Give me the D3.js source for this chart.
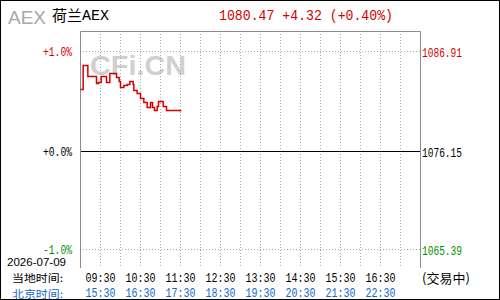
<!DOCTYPE html>
<html>
<head>
<meta charset="utf-8">
<script src="https://cdn.jsdelivr.net/npm/d3@7"></script>
<style>
  body { margin: 0; background: #fff; }
  svg { display: block; }
  .mono { font-family: "Liberation Mono", "DejaVu Sans Mono", monospace; }
  .cjk { font-family: "Noto Sans CJK SC", sans-serif; }
</style>
</head>
<body>
<svg id="chart" width="500" height="300"></svg>
<script>
// intraday steps: local time, change vs previous close in %
const times = ["09:00","09:04","09:11","09:24","09:27","09:31","09:39","09:44","09:54","09:58",
               "10:00","10:05","10:10","10:14","10:19","10:20","10:25","10:30","10:35","10:40",
               "10:45","10:48","10:51","10:55","10:57","11:04","11:09","11:30"];
const pctValues = [0.62,0.86,0.75,0.68,0.69,0.75,0.69,0.78,0.74,0.70,
                   0.64,0.66,0.67,0.70,0.67,0.61,0.58,0.53,0.49,0.44,
                   0.49,0.44,0.41,0.45,0.50,0.45,0.41,0.40];

const prevClose = 1076.15;
const lastPrice = "1080.47";
const changeText = "+4.32 (+0.40%)";
const pctTicks = [1, 0, -1];
const localTicks = ["09:30","10:30","11:30","12:30","13:30","14:30","15:30","16:30"];
const beijingTicks = ["15:30","16:30","17:30","18:30","19:30","20:30","21:30","22:30"];
const gridTimes = ["09:30","10:00","10:30","11:00","11:30","12:00","12:30","13:00","13:30",
                   "14:00","14:30","15:00","15:30","16:00","16:30","17:00"];
const dateLabel = "2026-07-09";

const RED = "#d40000", GREEN = "#009000", BLUE = "#1466cc";

const toMin = s => { const [h, m] = s.split(":").map(Number); return (h - 9) * 60 + m; };

const svg = d3.select("#chart");

const x = d3.scaleLinear().domain([0, 510]).range([80.5, 420.5]);
const y = d3.scaleLinear().domain([-1, 0, 1]).range([249.5, 151.5, 51.5]);

// outer border
svg.append("rect").attr("x", 0.5).attr("y", 0.5).attr("width", 499).attr("height", 299)
    .attr("fill", "none").attr("stroke", "#000");

// header
svg.append("text").attr("x", 8).attr("y", 24)
    .style("font-family", "Liberation Sans, Arial, sans-serif").style("font-size", "19px")
    .attr("fill", "#a8a8a8").text("AEX");
svg.append("text").attr("class", "cjk").attr("x", 52).attr("y", 21)
    .style("font-size", "15px").attr("fill", "#000").text("荷兰");
svg.append("text").attr("class", "mono").attr("x", 82).attr("y", 20)
    .style("font-size", "15px").attr("textLength", 27).attr("lengthAdjust", "spacingAndGlyphs")
    .attr("fill", "#000").text("AEX");
svg.append("text").attr("class", "mono").attr("x", 219).attr("y", 20)
    .style("font-size", "15px").attr("textLength", 174).attr("lengthAdjust", "spacingAndGlyphs")
    .attr("fill", RED).text(lastPrice + " " + changeText);

// watermark
svg.append("text").attr("x", 90).attr("y", 75)
    .style("font-family", "Liberation Sans, Arial, sans-serif").style("font-size", "28px")
    .style("font-weight", "bold").attr("textLength", 96).attr("lengthAdjust", "spacingAndGlyphs")
    .attr("fill", "#d0d0d0").text("CFi.CN");

// vertical grid
svg.selectAll("line.vgrid").data(gridTimes).enter().append("line")
    .attr("class", "vgrid")
    .attr("x1", d => x(toMin(d))).attr("x2", d => x(toMin(d)))
    .attr("y1", 31).attr("y2", 268)
    .attr("stroke", "#aaa").attr("stroke-dasharray", "1,2");

// horizontal lines
svg.selectAll("line.hgrid").data(pctTicks).enter().append("line")
    .attr("class", "hgrid")
    .attr("x1", 80).attr("x2", 420)
    .attr("y1", d => y(d)).attr("y2", d => y(d))
    .attr("stroke", d => d === 0 ? "#000" : "#aaa")
    .attr("stroke-dasharray", d => d === 0 ? null : "1,2");

// frame
svg.append("path").attr("d", "M80.5,268V31.5H420.5V268")
    .attr("fill", "none").attr("stroke", "#8c8c8c");

// price line
const pts = times.map((t, i) => [toMin(t), pctValues[i]]);
svg.append("path").datum(pts)
    .attr("d", d3.line().x(d => x(d[0])).y(d => y(d[1])).curve(d3.curveStepAfter))
    .attr("fill", "none").attr("stroke", RED).attr("stroke-width", 1.5);

// y labels
const tickColor = d => d > 0 ? RED : d < 0 ? GREEN : "#000";
svg.selectAll("text.pct").data(pctTicks).enter().append("text")
    .attr("class", "pct mono")
    .attr("x", 72).attr("y", d => y(d) + 4)
    .attr("text-anchor", "end")
    .style("font-size", "12px").attr("textLength", 29).attr("lengthAdjust", "spacingAndGlyphs")
    .attr("fill", tickColor)
    .text(d => (d >= 0 ? "+" : "-") + Math.abs(d).toFixed(1) + "%");
svg.selectAll("text.price").data(pctTicks).enter().append("text")
    .attr("class", "price mono")
    .attr("x", 422).attr("y", d => y(d) + 5)
    .style("font-size", "12px").attr("textLength", 40).attr("lengthAdjust", "spacingAndGlyphs")
    .attr("fill", tickColor)
    .text(d => (prevClose * (1 + d / 100)).toFixed(2));

// date + time rows
svg.append("text").attr("x", 7).attr("y", 266)
    .style("font-family", "Liberation Sans, Arial, sans-serif").style("font-size", "11px")
    .attr("textLength", 59).attr("lengthAdjust", "spacingAndGlyphs")
    .attr("fill", "#000").text(dateLabel);
svg.append("text").attr("class", "cjk").attr("x", 12).attr("y", 282)
    .style("font-size", "10.5px").attr("textLength", 51).attr("lengthAdjust", "spacingAndGlyphs")
    .attr("fill", "#000").text("当地时间:");
svg.append("text").attr("class", "cjk").attr("x", 12).attr("y", 297.5)
    .style("font-size", "10.5px").attr("textLength", 51).attr("lengthAdjust", "spacingAndGlyphs")
    .attr("fill", BLUE).text("北京时间:");

svg.selectAll("text.local").data(localTicks).enter().append("text")
    .attr("class", "local mono")
    .attr("x", d => x(toMin(d)) - 15).attr("y", 282)
    .style("font-size", "12.5px").attr("textLength", 30).attr("lengthAdjust", "spacingAndGlyphs")
    .attr("fill", "#000").text(d => d);
svg.selectAll("text.bj").data(beijingTicks).enter().append("text")
    .attr("class", "bj mono")
    .attr("x", (d, i) => x(toMin(localTicks[i])) - 15).attr("y", 296.5)
    .style("font-size", "12.5px").attr("textLength", 30).attr("lengthAdjust", "spacingAndGlyphs")
    .attr("fill", BLUE).text(d => d);

svg.append("text").attr("class", "cjk").attr("x", 422).attr("y", 283)
    .style("font-size", "13px").attr("fill", "#000").text("(交易中)");
</script>
</body>
</html>
